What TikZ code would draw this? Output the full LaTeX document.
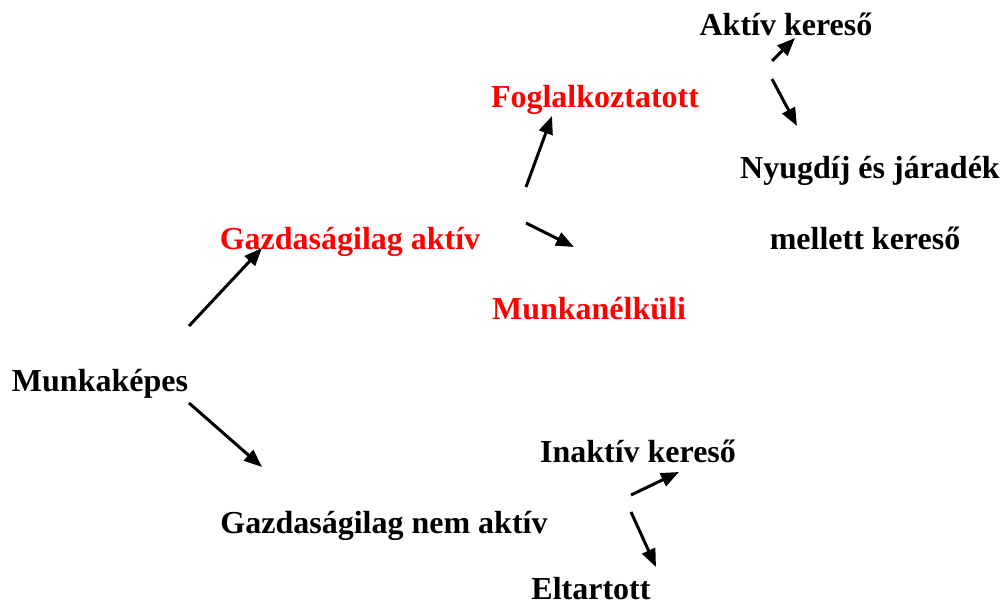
\documentclass[tikz,border=0pt]{standalone}
\usepackage{fontspec}
\setmainfont{Liberation Serif}
\usetikzlibrary{arrows.meta}
\begin{document}
\begin{tikzpicture}[x=1pt,y=-1pt,
  lbl/.style={font=\fontsize{32}{37}\selectfont\bfseries, inner sep=0pt, anchor=base},
  hot/.style={lbl, text={rgb,255:red,255;green,0;blue,0}},
  arr/.style={line width=3pt, -{Triangle[length=18pt,width=14pt]}}]
\useasboundingbox (0,0) rectangle (1003,605);
\node[lbl] (aktker) at (786,35) {Aktív kereső};
\node[hot] (fogl) at (595,107) {Foglalkoztatott};
\node[lbl] (nyug) at (870,178) {Nyugdíj és járadék};
\node[lbl] (mell) at (865,249) {mellett kereső};
\node[hot] (gaz) at (350,249) {Gazdaságilag aktív};
\node[hot] (mun) at (589,319) {Munkanélküli};
\node[lbl] (mk) at (100,391) {Munkaképes};
\node[lbl] (inak) at (638,462) {Inaktív kereső};
\node[lbl] (gna) at (384,533) {Gazdaságilag nem aktív};
\node[lbl] (elt) at (591,599) {Eltartott};
\coordinate (a1s) at (189,326); \coordinate (a1t) at (262,248);
\coordinate (a2s) at (189,403); \coordinate (a2t) at (262,467);
\coordinate (a3s) at (526,187); \coordinate (a3t) at (552,116);
\coordinate (a4s) at (526,223); \coordinate (a4t) at (574,247);
\coordinate (a5s) at (772,61);  \coordinate (a5t) at (795,38);
\coordinate (a6s) at (772,79);  \coordinate (a6t) at (797,126);
\coordinate (a7s) at (631,495); \coordinate (a7t) at (679,472);
\coordinate (a8s) at (631,512); \coordinate (a8t) at (656,567);
\draw[arr] (a1s) -- (a1t);
\draw[arr] (a2s) -- (a2t);
\draw[arr] (a3s) -- (a3t);
\draw[arr] (a4s) -- (a4t);
\draw[arr] (a5s) -- (a5t);
\draw[arr] (a6s) -- (a6t);
\draw[arr] (a7s) -- (a7t);
\draw[arr] (a8s) -- (a8t);
\end{tikzpicture}
\end{document}
